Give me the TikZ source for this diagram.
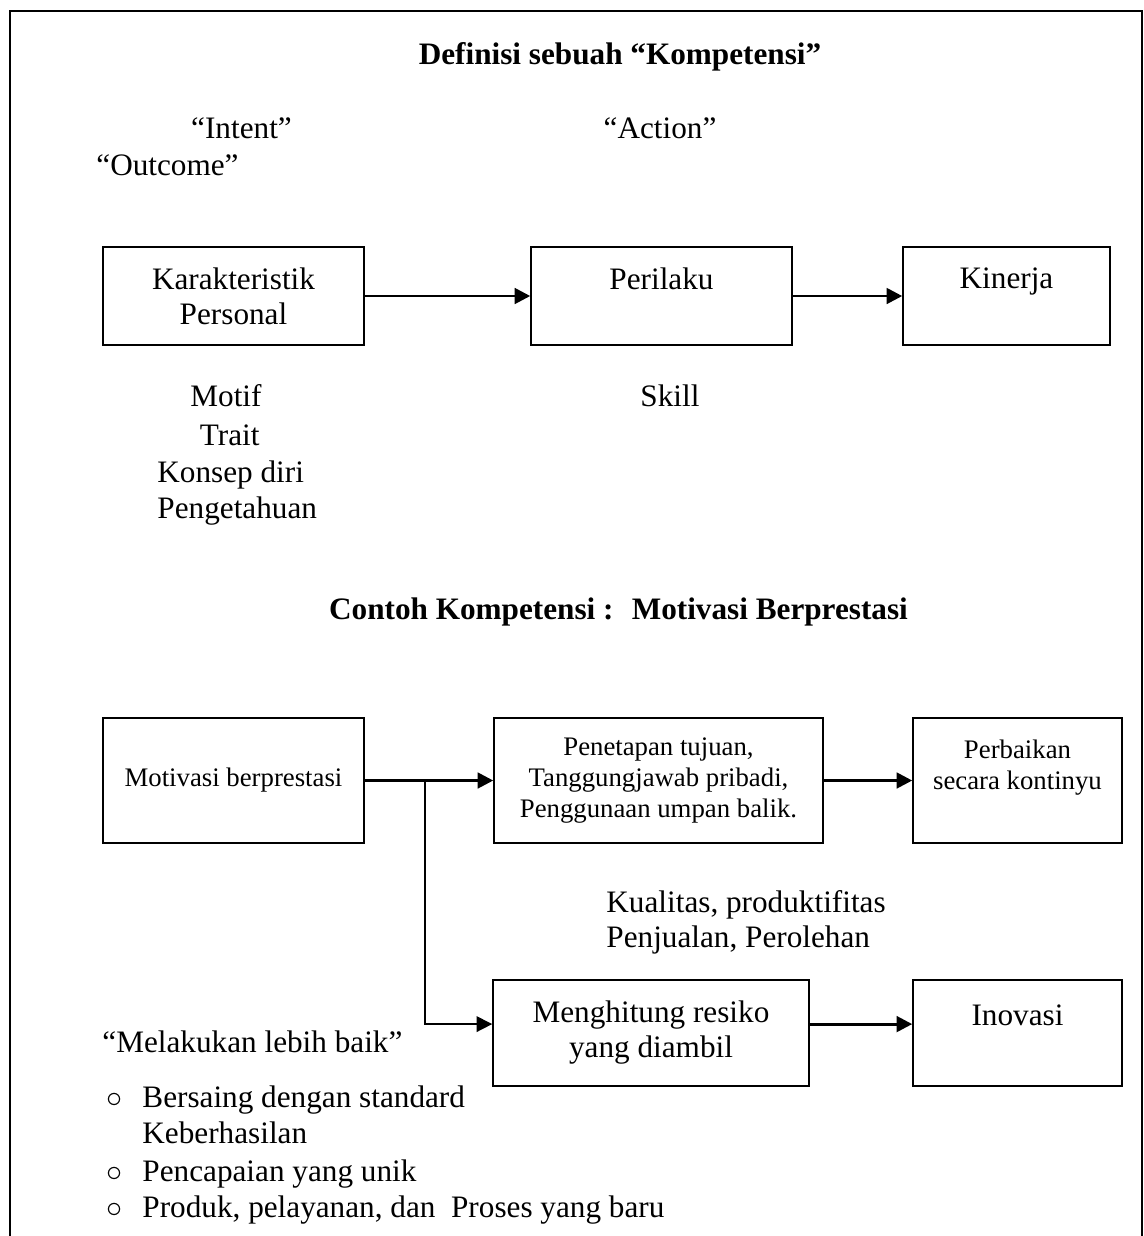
\documentclass[tikz,border=0pt]{standalone}
\usepackage{fontspec}
\setmainfont{Liberation Serif}
\usetikzlibrary{arrows.meta,positioning}

\begin{document}
\begin{tikzpicture}[
  x=0.4484pt, y=-0.4484pt,
  font=\fontsize{14}{16.5}\selectfont,
  box/.style={rectangle,draw,line width=0.7pt,align=center,
              font=\fontsize{14}{15.7}\selectfont,minimum height=44pt},
  smallbox/.style={rectangle,draw,line width=0.7pt,align=center,
              font=\fontsize{12}{14}\selectfont,minimum height=56pt},
  txt/.style={inner sep=0pt},
  judul/.style={inner sep=0pt,anchor=base,font=\fontsize{14}{16.5}\selectfont\bfseries},
  arr/.style={-{Triangle[length=7pt,width=7pt]},line width=1.3pt}]
\useasboundingbox (0,0) rectangle (1144,1236);
% frame, open at the bottom
\draw[line width=0.9pt] (10,1236) -- (10,11) -- (1142,11) -- (1142,1236);

% definisi kompetensi
\node[judul] (judul1) at (620,64) {Definisi sebuah “Kompetensi”};
\node[txt,anchor=base] (intent) at (241.5,138) {“Intent”};
\node[txt,anchor=base] (action) at (660,138) {“Action”};
\node[txt,anchor=base] (outcome) at (167.5,175) {“Outcome”};
\node[box,minimum width=117pt] (karak) at (233.5,296) {Karakteristik\\Personal};
\node[box,minimum width=117pt] (perilaku) at (661.5,296) {Perilaku\\~};
\node[box,minimum width=92.8pt] (kinerja) at (1006.5,296) {Kinerja\\~};
\draw[arr] (karak) -- (perilaku);
\draw[arr] (perilaku) -- (kinerja);
\node[txt,anchor=base west] (motif) at (190,406) {Motif};
\node[txt,anchor=base west] (trait) at (199.5,445) {Trait};
\node[txt,anchor=base west] (konsep) at (157,482) {Konsep diri};
\node[txt,anchor=base west] (tahu) at (157,518) {Pengetahuan};
\node[txt,anchor=base west] (skill) at (640,406) {Skill};

% contoh: motivasi berprestasi
\node[judul] (judul2) at (618.5,619) {Contoh Kompetensi :~ Motivasi Berprestasi};
\node[smallbox,minimum width=117pt] (motivasi) at (233.5,780.5) {Motivasi berprestasi};
\node[smallbox,minimum width=147.5pt] (tujuan) at (658.5,780.5) {Penetapan tujuan,\\Tanggungjawab pribadi,\\Penggunaan umpan balik.};
\node[smallbox,minimum width=93.7pt] (perbaikan) at (1017.5,780.5) {Perbaikan\\secara kontinyu\\~};
\node[box,minimum width=141.7pt,minimum height=47.5pt] (resiko) at (651,1033) {Menghitung resiko\\yang diambil};
\node[box,minimum width=93.7pt,minimum height=47.5pt] (inovasi) at (1017.5,1033) {Inovasi\\~};
\coordinate (cabang) at (425,781);
\draw[arr] (motivasi) -- (tujuan);
\draw[arr] (tujuan) -- (perbaikan);
\draw[arr,line width=0.7pt] (cabang) |- ([yshift=4pt]resiko.west);
\draw[arr] ([yshift=4pt]resiko.east) -- ([yshift=4pt]inovasi.west);
\node[txt,anchor=base west] (kualitas) at (606,912) {Kualitas, produktifitas};
\node[txt,anchor=base west] (jual) at (606,947) {Penjualan, Perolehan};
\node[txt,anchor=base west] (lebih) at (102,1052) {“Melakukan lebih baik”};
\foreach \yb/\isi [count=\i] in {1107/Bersaing dengan standard,1143/Keberhasilan,1181/Pencapaian yang unik,1217/{Produk, pelayanan, dan~ Proses yang baru}}
  \node[txt,anchor=base west] (butir\i) at (142,\yb) {\isi};
\foreach \yb [count=\i] in {1107,1181,1217}
  \node[txt,anchor=base] (bulat\i) at (115,\yb) {$\circ$};
\end{tikzpicture}
\end{document}
